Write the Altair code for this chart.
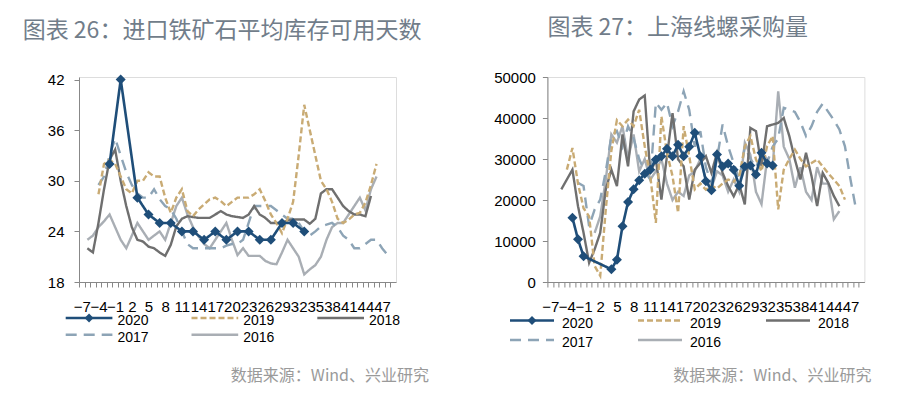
import altair as alt
import pandas as pd

# ---------------- data ----------------
YEARS = ["2020", "2019", "2018", "2017", "2016"]
COLORS = ["#1F4E79", "#C9AB74", "#6F6F6F", "#8DA4B6", "#A9AEB4"]
DASHES = [[1, 0], [6, 3], [1, 0], [11, 7], [1, 0]]

WEEK_DOMAIN = [-7.5, 49.5]
WEEK_TICKS = list(range(-7, 51))
LABEL_FIRST, LABEL_LAST, LABEL_STEP = -7, 47, 3

LEFT_TITLE = "图表 26：进口铁矿石平均库存可用天数"
RIGHT_TITLE = "图表 27：上海线螺采购量"
SOURCE_TEXT = "数据来源：Wind、兴业研究"

LEFT_Y_TICKS = [18, 24, 30, 36, 42]
RIGHT_Y_TICKS = [0, 10000, 20000, 30000, 40000, 50000]

# Left panel: imported iron ore average inventory days (weeks relative to Spring Festival)
L2020_WEEKS = [-2, 0, 3, 5, 7, 9, 11, 13, 15, 17, 19, 21, 23, 25, 27, 29, 31, 33]
L2020 = [32, 42, 28, 26, 25, 25, 24, 24, 23, 24, 23, 24, 24, 23, 23, 25, 25, 24]
L2019_START = -4
L2019 = [28.4, 32, 32.5, 32, 30.5, 29, 28.5, 30, 30, 31, 30.5, 30.5, 28, 26.2, 28, 29,
         26.4, 25.8, 26.6, 27.2, 27.8, 28, 27.6, 27, 27.5, 28, 28, 28, 28.4, 29, 27.6, 26,
         25, 23.8, 25.5, 27.5, 33, 39, 36, 33, 30, 29, 27.5, 25.5, 25, 25.4, 26, 26.2,
         27.4, 29.5, 32]
L2018_START = -6
L2018 = [22, 21.5, 25, 29, 32.5, 33.7, 30, 27, 24.5, 23, 22.8, 22.2, 22, 21.5, 21.1, 22.4,
         24.6, 25.5, 25.8, 25.7, 25.6, 25.6, 25.6, 26, 26.4, 26, 25.8, 25.7, 25.6, 26, 27,
         26, 25.6, 25, 25, 25, 25.3, 25.4, 25.4, 25.4, 24.9, 25.5, 28.5, 29, 29, 28, 27,
         26.4, 26, 26, 25.8, 28.2]
L2017_START = -4
L2017 = [29.5, 30.5, 33, 35, 33, 31, 29.5, 28.5, 28, 28, 29, 27.8, 27, 26.6, 25.5, 24,
         22.5, 22, 22, 22, 22, 22, 22, 22.3, 22.5, 22.5, 23, 25, 27, 27, 27, 27, 26.5, 26,
         25.5, 25.5, 25, 24, 23.5, 24, 24.6, 24.8, 25, 24.5, 23.5, 23, 22, 22, 22.5, 23,
         23, 22, 21.2]
L2016_START = -6
L2016 = [23, 23.5, 24.5, 25.2, 26, 24.5, 23, 22, 23.5, 25, 24, 23, 23.5, 24, 23, 25, 27,
         28, 26, 24.5, 23.4, 22.5, 22, 23, 24, 25, 23, 21.2, 22, 21.1, 21.1, 21.1, 20.5,
         20.2, 20.1, 21.5, 23, 22, 21, 18.9, 19.5, 20, 21, 23, 24.5, 25, 25, 26, 27, 28,
         26.5, 29, 30.5]

# Right panel: Shanghai wire rod & rebar purchases
R2020_WEEKS = [-3, -2, -1] + list(range(4, 34))
R2020 = [15700, 10400, 6300, 3100, 5400, 13600, 19500, 22600, 24800, 26400, 27400, 29900,
         30700, 32500, 30700, 33500, 30700, 33000, 36400, 30700, 24600, 22400, 31100,
         28200, 28900, 27400, 23500, 28200, 28400, 26200, 31500, 28900, 28400]
R2019_START = -4
R2019 = [27400, 32700, 24000, 18000, 16000, 3900, 1500, 17700, 32000, 39500, 38000, 39600,
         38000, 42000, 33100, 25800, 14400, 40400, 31500, 25800, 16900, 38000, 30700,
         22600, 24000, 22500, 23500, 22800, 24000, 25000, 24500, 25800, 33100, 35600,
         29900, 27000, 33100, 35600, 17700, 27400, 30000, 32300, 30000, 28200, 29000,
         29900, 28200, 26500, 25000, 23400, 20100]
R2018_START = -5
R2018 = [22600, 25000, 27400, 18500, 12000, 4700, 8000, 12000, 22600, 27400, 23400, 36000,
         28200, 41600, 44500, 45500, 26600, 29900, 20100, 30700, 41200, 29900, 28200,
         20100, 27400, 29000, 30700, 26600, 31500, 26600, 23400, 20900, 23800, 18900,
         37600, 36800, 28200, 38000, 38400, 38800, 40000, 35600, 29900, 25000, 31500,
         25800, 18500, 26600, 24200, 21000, 18500]
R2017_START = -2
R2017 = [24200, 23400, 13600, 17700, 20100, 27000, 35600, 36800, 33000, 38000, 35000,
         30000, 27000, 25000, 43700, 42000, 43700, 38000, 41600, 46500, 42000, 33000,
         36800, 28000, 24000, 30000, 38400, 33100, 29000, 25000, 33000, 30000, 28000,
         31000, 29000, 33000, 35000, 42500, 42000, 41500, 39000, 35600, 38000, 41500,
         43500, 41500, 39500, 37200, 33100, 25000, 17700]
R2016_START = 1
R2016 = [12000, 16000, 25000, 36000, 34000, 38000, 30000, 36000, 27000, 30000, 25000,
         27000, 30000, 24000, 20000, 22000, 21000, 26000, 27000, 30000, 25000, 23000,
         27000, 26000, 22000, 25000, 22000, 34000, 31000, 22000, 19000, 30000, 28000,
         46500, 33000, 30000, 23000, 28000, 22000, 20000, 28000, 24000, 24000, 15300,
         17300]


def weeks_from(start, vals):
    return list(range(start, start + len(vals)))


def frame(spec):
    rows = []
    for year, weeks, vals in spec:
        for w, v in zip(weeks, vals):
            rows.append({"year": year, "week": w, "value": v})
    return pd.DataFrame(rows)


left_df = frame([
    ("2016", weeks_from(L2016_START, L2016), L2016),
    ("2017", weeks_from(L2017_START, L2017), L2017),
    ("2018", weeks_from(L2018_START, L2018), L2018),
    ("2019", weeks_from(L2019_START, L2019), L2019),
    ("2020", L2020_WEEKS, L2020),
])
right_df = frame([
    ("2016", weeks_from(R2016_START, R2016), R2016),
    ("2017", weeks_from(R2017_START, R2017), R2017),
    ("2018", weeks_from(R2018_START, R2018), R2018),
    ("2019", weeks_from(R2019_START, R2019), R2019),
    ("2020", R2020_WEEKS, R2020),
])

# ---------------- styling ----------------
W, H = 317, 205
LABEL_FONT = "Liberation Sans"
CJK_FONT = "Noto Sans CJK SC"
TITLE_COLOR = "#717D8A"
SOURCE_COLOR = "#9A9A9A"


def color_enc():
    return alt.Color("year:N", scale=alt.Scale(domain=YEARS, range=COLORS), legend=None)


def dash_enc():
    return alt.StrokeDash("year:N", scale=alt.Scale(domain=YEARS, range=DASHES), legend=None)


def panel(df, title, title_dx, y_domain, y_ticks, y_label_pad, leg, src_xy):
    half = W / (WEEK_DOMAIN[1] - WEEK_DOMAIN[0]) / 2
    label_expr = (f"datum.value <= {LABEL_LAST} && (datum.value - ({LABEL_FIRST})) % {LABEL_STEP} == 0"
                  " ? datum.label : ''")
    x = alt.X("week:Q", title=None,
              scale=alt.Scale(domain=WEEK_DOMAIN, nice=False, zero=False),
              axis=alt.Axis(values=WEEK_TICKS, labelExpr=label_expr, tickOffset=-half,
                            labelOffset=half, labelOverlap=False, labelBound=False,
                            labelFlush=False, tickSize=5, labelPadding=12, labelFontSize=15,
                            grid=False))
    y = alt.Y("value:Q", title=None,
              scale=alt.Scale(domain=y_domain, nice=False, zero=False),
              axis=alt.Axis(values=y_ticks, format="d", tickSize=5, labelPadding=y_label_pad,
                            labelFontSize=15, grid=False))
    base = alt.Chart(df)
    others = base.transform_filter("datum.year != '2020'").mark_line(strokeWidth=2.4).encode(
        x=x, y=y, color=color_enc(), strokeDash=dash_enc())
    main = base.transform_filter("datum.year == '2020'").mark_line(strokeWidth=2.6).encode(
        x=x, y=y, color=color_enc(), strokeDash=dash_enc())
    pts = base.transform_filter("datum.year == '2020'").mark_point(
        shape="diamond", filled=True, size=100, opacity=1, color=COLORS[0]).encode(x=x, y=y)

    # manual legend (positions relative to the plot area)
    x0, cstride, length, gap, y0, rstride, tdy = leg
    leg_df = pd.DataFrame({"year": YEARS, "idx": list(range(len(YEARS)))})
    lb = alt.Chart(leg_df).transform_calculate(
        col="datum.idx % 3", row="floor(datum.idx / 3)"
    ).transform_calculate(
        lx=f"{x0} + datum.col * {cstride}",
        lx2=f"{x0} + datum.col * {cstride} + {length}",
        lmid=f"{x0} + datum.col * {cstride} + {length / 2}",
        tx=f"{x0} + datum.col * {cstride} + {length} + {gap}",
        ly=f"{y0} + datum.row * {rstride}",
        ty=f"{y0} + datum.row * {rstride} + {tdy}",
    )
    leg_lines = lb.mark_rule(strokeWidth=2.5).encode(
        x=alt.X("lx:Q", scale=None, axis=None), x2="lx2:Q",
        y=alt.Y("ly:Q", scale=None, axis=None),
        color=color_enc(), strokeDash=dash_enc())
    leg_pt = lb.transform_filter("datum.idx == 0").mark_point(
        shape="diamond", filled=True, size=80, opacity=1, color=COLORS[0]).encode(
        x=alt.X("lmid:Q", scale=None, axis=None), y=alt.Y("ly:Q", scale=None, axis=None))
    leg_text = lb.mark_text(align="left", baseline="middle", fontSize=14, font=LABEL_FONT,
                            color="#000000").encode(
        x=alt.X("tx:Q", scale=None, axis=None), y=alt.Y("ty:Q", scale=None, axis=None),
        text="year:N")

    src = alt.Chart(pd.DataFrame({"t": [SOURCE_TEXT]})).mark_text(
        align="right", baseline="middle", fontSize=16, font=CJK_FONT, color=SOURCE_COLOR
    ).encode(x=alt.value(src_xy[0]), y=alt.value(src_xy[1]), text="t:N")

    return alt.layer(others, main, pts, leg_lines, leg_pt, leg_text, src).properties(
        width=W, height=H,
        title=alt.TitleParams(text=title, anchor="start", frame="group", dx=title_dx,
                              offset=30, fontSize=23, font=CJK_FONT, fontWeight="normal",
                              color=TITLE_COLOR),
    )


# legend layout: x0, column stride, line length, gap, row-1 y, row stride, text dy
LEFT_LEG = (-13.3, 125.8, 46.7, 5, 241, 16.7, 3)
RIGHT_LEG = (-37.4, 128, 44, 8, 243.5, 19.4, 3)

left = panel(left_df, LEFT_TITLE, -56.3, [18, 42.3], LEFT_Y_TICKS, 10, LEFT_LEG, (350, 299))
right = panel(right_df, RIGHT_TITLE, 0, [0, 50000], RIGHT_Y_TICKS, 7, RIGHT_LEG, (324, 299.4))

chart = alt.hconcat(left, right, spacing=151.4, bounds="flush").properties(
    padding={"left": 14, "top": 8, "right": 5, "bottom": 5}
).configure_view(stroke=None).configure_axis(
    grid=False, domainColor="#404040", tickColor="#404040", labelColor="#000000",
    labelFont=LABEL_FONT, domainWidth=1.2, tickWidth=1.1,
).configure(background="white")

chart.save("out.html", embed_options={"renderer": "svg", "actions": False})
